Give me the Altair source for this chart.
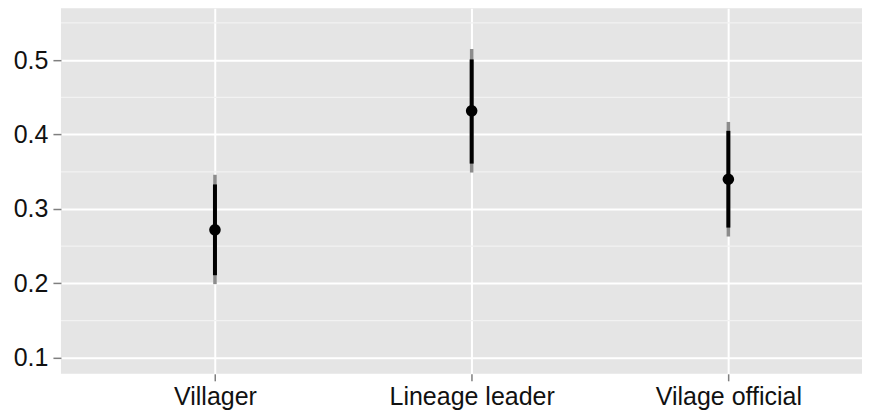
import json
import altair as alt
import pandas as pd

categories = ["Villager", "Lineage leader", "Vilage official"]
estimate = [0.272, 0.432, 0.340]
inner_lo = [0.211, 0.361, 0.275]
inner_hi = [0.333, 0.501, 0.405]
outer_lo = [0.199, 0.349, 0.263]
outer_hi = [0.346, 0.515, 0.417]

major_ticks = [0.1, 0.2, 0.3, 0.4, 0.5]
minor_ticks = [0.15, 0.25, 0.35, 0.45, 0.55]

df = pd.DataFrame({
    "pos": list(range(1, len(categories) + 1)),
    "category": categories,
    "est": estimate,
    "ilo": inner_lo,
    "ihi": inner_hi,
    "olo": outer_lo,
    "ohi": outer_hi,
})
minor_df = pd.DataFrame({"minor": minor_ticks})

FONT = "Liberation Sans"
label_expr = json.dumps(categories) + "[datum.value - 1]"

yscale = alt.Scale(domain=[0.0785, 0.5698], nice=False, zero=False)
xscale = alt.Scale(domain=[0.4, 3.5206], nice=False, zero=False)

yaxis = alt.Axis(values=major_ticks, tickSize=8, tickColor="#7F7F7F", tickWidth=1.5,
                 labelFont=FONT, labelFontSize=25, labelColor="#111111", labelPadding=5,
                 domain=False, grid=True, gridColor="#FFFFFF", gridWidth=2, title=None,
                 format=".1f")
xaxis = alt.Axis(values=list(range(1, len(categories) + 1)), labelExpr=label_expr,
                 tickSize=7, tickColor="#7F7F7F", tickWidth=1.5,
                 labelFont=FONT, labelFontSize=25, labelColor="#111111", labelPadding=4,
                 domain=False, grid=True, gridColor="#FFFFFF", gridWidth=2, title=None,
                 labelAngle=0)

minor = alt.Chart(minor_df).mark_rule(color="#F2F2F2", strokeWidth=1.2).encode(
    y=alt.Y("minor:Q", scale=yscale, axis=yaxis)
)

base = alt.Chart(df)
outer = base.mark_rule(color="#8C8C8C", strokeWidth=3.5).encode(
    x=alt.X("pos:Q", scale=xscale, axis=xaxis),
    y=alt.Y("olo:Q", scale=yscale, axis=yaxis),
    y2="ohi:Q",
)
inner = base.mark_rule(color="#000000", strokeWidth=4).encode(
    x=alt.X("pos:Q", scale=xscale, axis=xaxis),
    y=alt.Y("ilo:Q", scale=yscale, axis=yaxis),
    y2="ihi:Q",
)
points = base.mark_circle(color="#000000", size=135, opacity=1).encode(
    x=alt.X("pos:Q", scale=xscale, axis=xaxis),
    y=alt.Y("est:Q", scale=yscale, axis=yaxis),
)

chart = alt.layer(minor, outer, inner, points).properties(
    width=802, height=366,
    padding={"left": 5, "top": 0, "right": 0, "bottom": 5},
).configure_view(fill="#E5E5E5", stroke=None)

chart.save("out.html", embed_options={"renderer": "svg", "actions": False})
